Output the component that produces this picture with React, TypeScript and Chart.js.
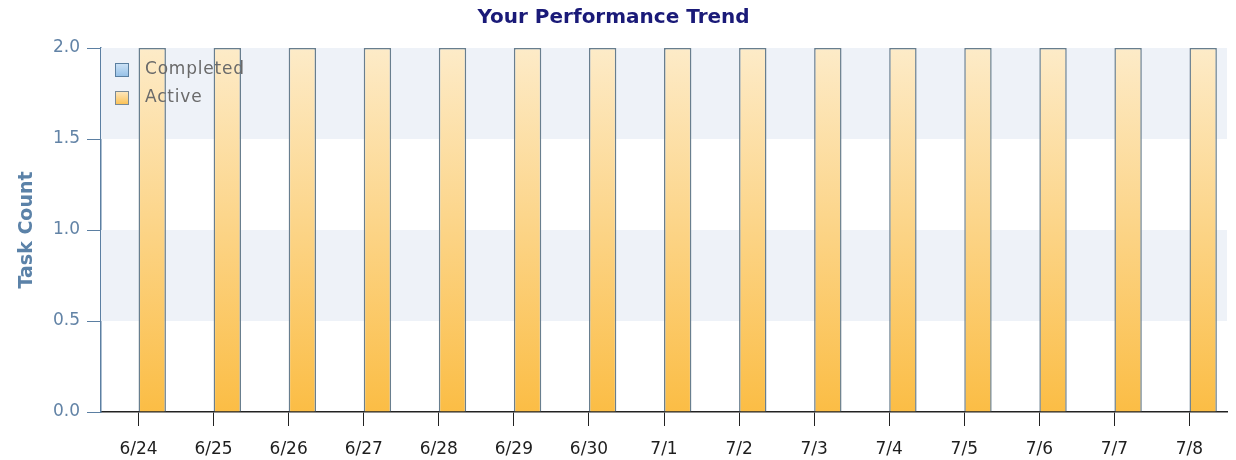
import React, { useEffect, useRef } from "react";
import { Chart, registerables } from "chart.js";

Chart.register(...registerables);

const categories = ["6/24", "6/25", "6/26", "6/27", "6/28", "6/29", "6/30", "7/1", "7/2", "7/3", "7/4", "7/5", "7/6", "7/7", "7/8"];
const completedValues = [0, 0, 0, 0, 0, 0, 0, 0, 0, 0, 0, 0, 0, 0, 0];
const activeValues = [2, 2, 2, 2, 2, 2, 2, 2, 2, 2, 2, 2, 2, 2, 2];
const yTicks = [0, 0.5, 1.0, 1.5, 2.0];
const shadedBands = [[0.5, 1.0], [1.5, 2.0]];

const AXIS_BLUE = "#5b7fa2";
const FONT = "'DejaVu Sans', Verdana, sans-serif";

function gradientFill(top: string, bottom: string) {
  return (ctx: any) => {
    const chart = ctx.chart;
    const area = chart.chartArea;
    if (!area) return bottom;
    const g = chart.ctx.createLinearGradient(0, area.top, 0, area.bottom);
    g.addColorStop(0, top);
    g.addColorStop(1, bottom);
    return g;
  };
}

const bandsPlugin = {
  id: "bands",
  beforeDatasetsDraw(chart: any) {
    const { ctx, chartArea, scales } = chart;
    const y = scales.y;
    ctx.save();
    ctx.fillStyle = "#eef2f8";
    for (const [a, b] of shadedBands) {
      const y1 = y.getPixelForValue(b);
      const y2 = y.getPixelForValue(a);
      ctx.fillRect(chartArea.left, y1, chartArea.right - chartArea.left, y2 - y1);
    }
    ctx.restore();
  },
};

const legendSwatches = [
  { top: "#cfe4f7", bottom: "#93bfe6", border: "#5a7fa0" },
  { top: "#fde9c3", bottom: "#fbc050", border: "#7a8a96" },
];

const innerLegendPlugin = {
  id: "innerLegend",
  afterDraw(chart: any) {
    const { ctx, chartArea } = chart;
    ctx.save();
    chart.data.datasets.forEach((ds: any, i: number) => {
      const sw = legendSwatches[i];
      const x = chartArea.left + 14;
      const cy = chartArea.top + 22 + i * 28;
      const g = ctx.createLinearGradient(0, cy - 7, 0, cy + 7);
      g.addColorStop(0, sw.top);
      g.addColorStop(1, sw.bottom);
      ctx.fillStyle = g;
      ctx.fillRect(x, cy - 7, 14, 14);
      ctx.strokeStyle = sw.border;
      ctx.lineWidth = 1;
      ctx.strokeRect(x + 0.5, cy - 6.5, 13, 13);
      ctx.fillStyle = "#6a6a6a";
      ctx.font = "17px " + FONT;
      (ctx as any).letterSpacing = "0.8px";
      ctx.textBaseline = "middle";
      ctx.textAlign = "left";
      ctx.fillText(ds.label, x + 30, cy);
      (ctx as any).letterSpacing = "0px";
    });
    ctx.restore();
  },
};

export default function App() {
  const ref = useRef<HTMLCanvasElement>(null);

  useEffect(() => {
    if (!ref.current) return;
    const chart = new Chart(ref.current, {
      type: "bar",
      data: {
        labels: categories,
        datasets: [
          {
            label: "Completed",
            data: completedValues,
            backgroundColor: gradientFill("#cfe4f7", "#93bfe6"),
            borderColor: "#5a7fa0",
            borderWidth: 0,
            categoryPercentage: 0.73,
            barPercentage: 1,
          },
          {
            label: "Active",
            data: activeValues,
            backgroundColor: gradientFill("#fdebc8", "#fbbd45"),
            borderColor: "#687e8e",
            borderWidth: 1.5,
            categoryPercentage: 0.73,
            barPercentage: 1,
          },
        ],
      },
      options: {
        responsive: false,
        animation: false,
        layout: { padding: { left: 0, right: 9, top: 0, bottom: 0 } },
        plugins: {
          legend: { display: false },
          tooltip: { enabled: false },
          title: {
            display: true,
            text: "Your Performance Trend",
            color: "#1a1a78",
            font: { family: FONT, size: 20, weight: "bold" },
            padding: { top: 6, bottom: 18 },
          },
        },
        scales: {
          x: {
            grid: {
              offset: false,
              drawOnChartArea: false,
              drawTicks: true,
              tickLength: 14,
              color: "#222222",
            },
            border: { color: "#222222", width: 1.5 },
            ticks: {
              color: "#1e1e1e",
              padding: 13,
              font: { family: FONT, size: 17 },
            },
            afterFit: (scale: any) => {
              scale.height = 48;
            },
          },
          y: {
            min: 0,
            max: 2,
            afterBuildTicks: (scale: any) => {
              scale.ticks = yTicks.map((v) => ({ value: v }));
            },
            grid: {
              drawOnChartArea: false,
              drawTicks: true,
              tickLength: 14,
              color: AXIS_BLUE,
            },
            border: { color: AXIS_BLUE, width: 1.5 },
            ticks: {
              color: "#6283a6",
              padding: 7,
              font: { family: FONT, size: 17 },
              callback: (v: any) => Number(v).toFixed(1),
            },
            title: {
              display: true,
              text: "Task Count",
              color: "#5b82a8",
              font: { family: FONT, size: 19, weight: "bold" },
              padding: { top: 16, bottom: 0 },
            },
            afterFit: (scale: any) => {
              scale.width = 101;
            },
          },
        },
      },
      plugins: [bandsPlugin, innerLegendPlugin],
    } as any);
    return () => chart.destroy();
  }, []);

  return (
    <div style={{ position: "fixed", left: 0, top: 0, width: 1236, height: 460, background: "#fff" }}>
      <canvas ref={ref} width={1236} height={460} />
    </div>
  );
}
